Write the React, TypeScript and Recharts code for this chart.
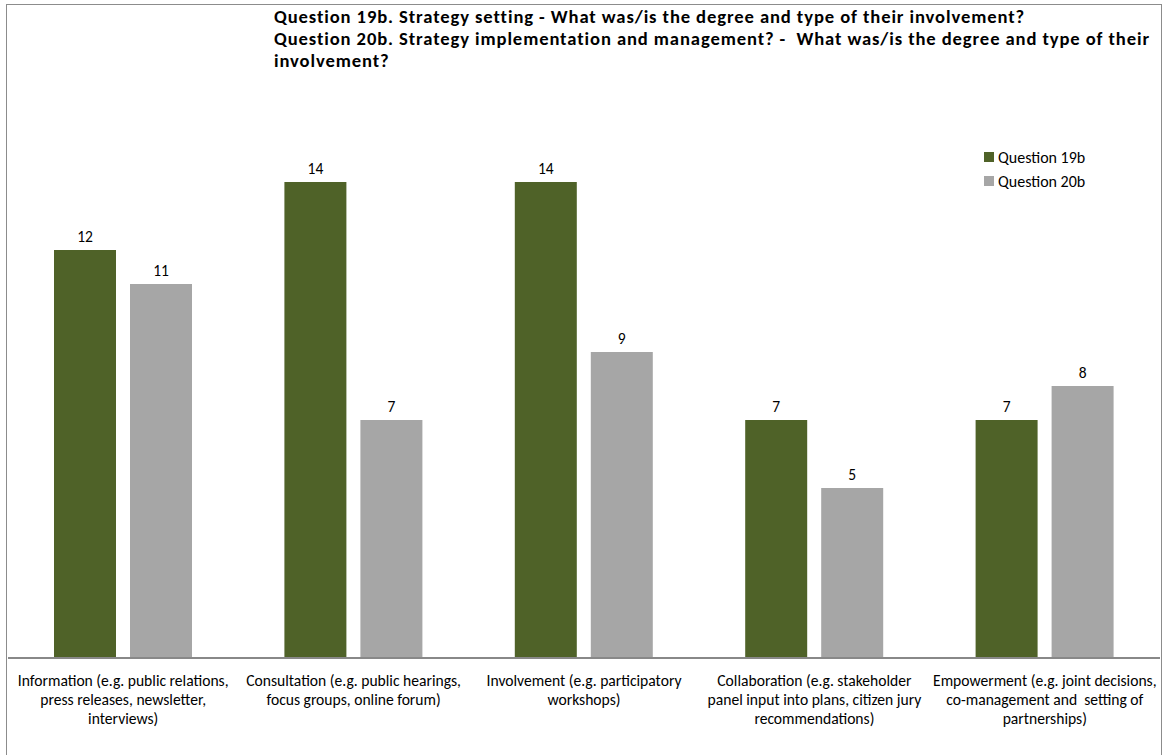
import { BarChart, Bar, XAxis, YAxis, LabelList } from "recharts";

// Categories (line breaks as in the original axis labels)
const categories = [
  "Information (e.g. public relations,\npress releases, newsletter,\ninterviews)",
  "Consultation (e.g. public hearings,\nfocus groups, online forum)",
  "Involvement (e.g. participatory\nworkshops)",
  "Collaboration (e.g. stakeholder\npanel input into plans, citizen jury\nrecommendations)",
  "Empowerment (e.g. joint decisions,\nco-management and  setting of\npartnerships)",
];
const q19b = [12, 14, 14, 7, 7];
const q20b = [11, 7, 9, 5, 8];
const seriesNames = ["Question 19b", "Question 20b"];
const titleLines = [
  "Question 19b. Strategy setting - What was/is the degree and type of their involvement?",
  "Question 20b. Strategy implementation and management? -  What was/is the degree and type of their",
  "involvement?",
];

const GREEN = "#4F6228";
const GRAY = "#A6A6A6";
const FONT = "Carlito, Calibri, 'Open Sans', sans-serif";

const data = categories.map((c, i) => ({ name: c, q19b: q19b[i], q20b: q20b[i] }));

function CategoryTick(props: any) {
  const { x, y, payload } = props;
  const lines = String(payload.value).split("\n");
  return (
    <g transform={`translate(${x},${y})`}>
      {lines.map((line, i) => (
        <text
          key={i}
          x={0}
          y={22 + i * 19}
          textAnchor="middle"
          dominantBaseline="central"
          fontFamily={FONT}
          fontSize={15.6}
          fill="#000"
          style={{ whiteSpace: "pre" }}
        >
          {line}
        </text>
      ))}
    </g>
  );
}

function LegendBox() {
  const colors = [GREEN, GRAY];
  return (
    <div style={{ fontFamily: FONT, fontSize: 16, color: "#000" }}>
      {seriesNames.map((n, i) => (
        <div key={n} style={{ display: "flex", alignItems: "center", height: 24 }}>
          <span style={{ width: 10, height: 10, background: colors[i], marginRight: 4, display: "inline-block" }} />
          <span>{n}</span>
        </div>
      ))}
    </div>
  );
}

export default function App() {
  return (
    <div style={{ position: "absolute", left: 0, top: 0, width: 1167, height: 755, background: "#fff" }}>
      <div
        style={{
          position: "absolute",
          left: 6,
          top: 4,
          width: 1156,
          height: 752,
          border: "1px solid #8c8c8c",
          boxSizing: "border-box",
        }}
      />
      <div
        style={{
          position: "absolute",
          left: 274,
          top: 6,
          fontFamily: FONT,
          fontWeight: "bold",
          fontSize: 18.6,
          letterSpacing: 0.9,
          lineHeight: "22px",
          color: "#000",
          whiteSpace: "pre",
        }}
      >
        {titleLines.map((t) => (
          <div key={t}>{t}</div>
        ))}
      </div>
      <div style={{ position: "absolute", left: 984, top: 145 }}>
        <LegendBox />
      </div>
      <div style={{ position: "absolute", left: 0, top: 0 }}>
        <BarChart
          width={1167}
          height={755}
          data={data}
          margin={{ top: 114, right: 7, bottom: 0, left: 8 }}
          barGap={14}
        >
          <XAxis
            dataKey="name"
            interval={0}
            height={97}
            tickSize={0}
            tickMargin={0}
            tickLine={false}
            axisLine={{ stroke: "#888888", strokeWidth: 2 }}
            tick={<CategoryTick />}
          />
          <YAxis hide domain={[0, 16]} />
          <Bar dataKey="q19b" name={seriesNames[0]} fill={GREEN} barSize={62} isAnimationActive={false}>
            <LabelList dataKey="q19b" position="top" offset={8} fontFamily={FONT} fontSize={15.5} fill="#000" />
          </Bar>
          <Bar dataKey="q20b" name={seriesNames[1]} fill={GRAY} barSize={62} isAnimationActive={false}>
            <LabelList dataKey="q20b" position="top" offset={8} fontFamily={FONT} fontSize={15.5} fill="#000" />
          </Bar>
        </BarChart>
      </div>
    </div>
  );
}
